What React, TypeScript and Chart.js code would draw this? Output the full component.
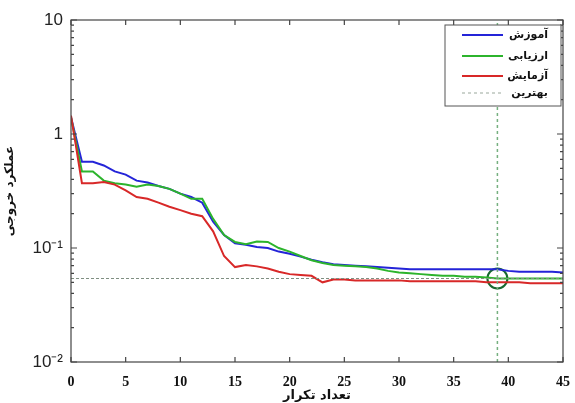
import React, { useEffect, useRef } from 'react';
import { Chart, registerables } from 'chart.js';

Chart.register(...registerables);

const EPOCHS = [0, 1, 2, 3, 4, 5, 6, 7, 8, 9, 10, 11, 12, 13, 14, 15, 16, 17, 18, 19, 20, 21, 22, 23, 24, 25, 26, 27, 28, 29, 30, 31, 32, 33, 34, 35, 36, 37, 38, 39, 40, 41, 42, 43, 44, 45];
const TRAIN = [1.4, 0.57, 0.57, 0.53, 0.47, 0.44, 0.39, 0.375, 0.35, 0.33, 0.3, 0.28, 0.25, 0.17, 0.13, 0.11, 0.107, 0.102, 0.1, 0.093, 0.089, 0.084, 0.079, 0.075, 0.072, 0.071, 0.07, 0.069, 0.068, 0.067, 0.066, 0.065, 0.065, 0.065, 0.065, 0.065, 0.065, 0.065, 0.065, 0.065, 0.063, 0.062, 0.062, 0.062, 0.062, 0.061];
const VALID = [1.4, 0.47, 0.47, 0.39, 0.37, 0.36, 0.345, 0.36, 0.35, 0.33, 0.3, 0.27, 0.27, 0.18, 0.13, 0.113, 0.108, 0.114, 0.113, 0.1, 0.093, 0.085, 0.078, 0.074, 0.071, 0.07, 0.069, 0.068, 0.066, 0.063, 0.061, 0.06, 0.059, 0.058, 0.057, 0.057, 0.056, 0.056, 0.055, 0.054, 0.054, 0.054, 0.054, 0.054, 0.054, 0.054];
const TEST = [1.45, 0.37, 0.37, 0.38, 0.36, 0.32, 0.28, 0.27, 0.25, 0.23, 0.215, 0.2, 0.19, 0.14, 0.085, 0.068, 0.071, 0.069, 0.066, 0.062, 0.059, 0.058, 0.057, 0.05, 0.053, 0.053, 0.052, 0.052, 0.052, 0.052, 0.052, 0.051, 0.051, 0.051, 0.051, 0.051, 0.051, 0.051, 0.05, 0.05, 0.05, 0.05, 0.049, 0.049, 0.049, 0.049];
const BEST_EPOCH = 39;
const BEST_VALUE = 0.054;
const SERIES_LABELS = ['آموزش', 'ارزیابی', 'آزمایش', 'بهترین'];
const SERIES_COLORS = ['#2424d8', '#2cb42c', '#d82828', '#76b07f'];
const X_TICKS = [0, 5, 10, 15, 20, 25, 30, 35, 40, 45];
const Y_MAJOR = [0.01, 0.1, 1, 10];
const Y_TICK_LABELS = ['10⁻²', '10⁻¹', '1', '10'];
const X_TITLE = 'تعداد تکرار';
const Y_TITLE = 'عملکرد خروجی';

const framePlugin = {
  id: 'frameTicks',
  afterDatasetsDraw(chart: any) {
    const { ctx, chartArea, scales } = chart;
    const { left, right, top, bottom } = chartArea;
    const x = scales.x;
    const y = scales.y;
    ctx.save();
    ctx.strokeStyle = '#444';
    ctx.lineWidth = 1.2;
    ctx.strokeRect(left, top, right - left, bottom - top);
    ctx.beginPath();
    X_TICKS.forEach((v) => {
      const px = x.getPixelForValue(v);
      ctx.moveTo(px, bottom);
      ctx.lineTo(px, bottom - 5);
      ctx.moveTo(px, top);
      ctx.lineTo(px, top + 5);
    });
    y.ticks.forEach((t: any) => {
      const py = y.getPixelForValue(t.value);
      const major = Y_MAJOR.some((m) => Math.abs(m - t.value) / m < 1e-6);
      const len = major ? 6 : 3;
      ctx.moveTo(left, py);
      ctx.lineTo(left + len, py);
      ctx.moveTo(right, py);
      ctx.lineTo(right - len, py);
    });
    ctx.stroke();
    ctx.restore();
  },
};

const legendPlugin = {
  id: 'customLegend',
  afterDraw(chart: any) {
    const { ctx, chartArea } = chart;
    const boxRight = chartArea.right - 2;
    const boxLeft = boxRight - 116;
    const boxTop = chartArea.top + 5;
    const boxBottom = boxTop + 81;
    ctx.save();
    ctx.fillStyle = '#ffffff';
    ctx.fillRect(boxLeft, boxTop, boxRight - boxLeft, boxBottom - boxTop);
    ctx.strokeStyle = '#555';
    ctx.lineWidth = 1;
    ctx.strokeRect(boxLeft, boxTop, boxRight - boxLeft, boxBottom - boxTop);
    const rows = [10, 31, 51, 68];
    SERIES_LABELS.forEach((label, i) => {
      const yy = boxTop + rows[i];
      ctx.beginPath();
      ctx.strokeStyle = i === 3 ? '#9aa79c' : SERIES_COLORS[i];
      if (i === 3) {
        ctx.lineWidth = 1;
        ctx.setLineDash([3, 3]);
      } else {
        ctx.lineWidth = 2;
        ctx.setLineDash([]);
      }
      ctx.moveTo(boxLeft + 17, yy);
      ctx.lineTo(boxLeft + 58, yy);
      ctx.stroke();
      ctx.setLineDash([]);
      ctx.fillStyle = '#111';
      ctx.font = 'bold 11px "DejaVu Sans"';
      ctx.textAlign = 'right';
      ctx.textBaseline = 'middle';
      ctx.fillText(label, boxRight - 13, yy);
    });
    ctx.restore();
  },
};

export default function App() {
  const canvasRef = useRef<HTMLCanvasElement>(null);

  useEffect(() => {
    if (!canvasRef.current) return;
    const mk = (arr: number[]) => EPOCHS.map((e, i) => ({ x: e, y: arr[i] }));
    const chart = new Chart(canvasRef.current, {
      type: 'line',
      data: {
        datasets: [
          {
            label: 'best-h',
            data: [
              { x: EPOCHS[0], y: BEST_VALUE },
              { x: EPOCHS[EPOCHS.length - 1], y: BEST_VALUE },
            ],
            borderColor: '#7f8f82',
            borderWidth: 1,
            borderDash: [3, 2],
            pointRadius: 0,
          },
          {
            label: 'best-v',
            data: [
              { x: BEST_EPOCH, y: Y_MAJOR[0] },
              { x: BEST_EPOCH, y: Y_MAJOR[Y_MAJOR.length - 1] },
            ],
            borderColor: SERIES_COLORS[3],
            borderWidth: 1.5,
            borderDash: [3, 3],
            pointRadius: 0,
          },
          {
            label: SERIES_LABELS[2],
            data: mk(TEST),
            borderColor: SERIES_COLORS[2],
            borderWidth: 2,
            pointRadius: 0,
          },
          {
            label: SERIES_LABELS[1],
            data: mk(VALID),
            borderColor: SERIES_COLORS[1],
            borderWidth: 2,
            pointRadius: 0,
          },
          {
            label: SERIES_LABELS[0],
            data: mk(TRAIN),
            borderColor: SERIES_COLORS[0],
            borderWidth: 2,
            pointRadius: 0,
          },
          {
            label: 'best-point',
            data: [{ x: BEST_EPOCH, y: BEST_VALUE }],
            borderColor: '#17692f',
            backgroundColor: 'rgba(0,0,0,0)',
            borderWidth: 2,
            pointRadius: 10,
            showLine: false,
          },
        ],
      },
      options: {
        responsive: false,
        maintainAspectRatio: false,
        animation: false,
        devicePixelRatio: 1,
        layout: { padding: { left: 0, right: 8, top: 20, bottom: 0 } },
        plugins: { legend: { display: false }, tooltip: { enabled: false } },
        scales: {
          x: {
            type: 'linear',
            min: X_TICKS[0],
            max: X_TICKS[X_TICKS.length - 1],
            afterBuildTicks: (scale: any) => {
              scale.ticks = X_TICKS.map((v) => ({ value: v }));
            },
            afterFit: (scale: any) => {
              scale.height = 41;
              scale.paddingLeft = 0;
              scale.paddingRight = 0;
            },
            grid: { display: false, drawTicks: false },
            border: { display: false },
            ticks: {
              padding: 12,
              color: '#111',
              maxRotation: 0,
              font: { family: '"Liberation Serif"', size: 14, weight: 'bold' },
              callback: (v: any) => String(v),
            },
            title: {
              display: true,
              text: X_TITLE,
              color: '#111',
              padding: { top: 0, bottom: 0 },
              font: { family: '"DejaVu Sans"', size: 13, weight: 'bold' },
            },
          },
          y: {
            type: 'logarithmic',
            min: Y_MAJOR[0],
            max: Y_MAJOR[Y_MAJOR.length - 1],
            afterBuildTicks: (scale: any) => {
              const ticks: any[] = [];
              for (let i = 0; i < Y_MAJOR.length; i++) {
                ticks.push({ value: Y_MAJOR[i] });
                if (i < Y_MAJOR.length - 1) {
                  for (let k = 2; k <= 9; k++) ticks.push({ value: Y_MAJOR[i] * k });
                }
              }
              scale.ticks = ticks;
            },
            afterFit: (scale: any) => {
              scale.width = 71;
              scale.paddingTop = 0;
              scale.paddingBottom = 0;
            },
            grid: { display: false, drawTicks: false },
            border: { display: false },
            ticks: {
              padding: 8,
              color: '#222',
              autoSkip: false,
              font: { family: '"Liberation Sans"', size: 17 },
              callback: (v: any) => {
                const idx = Y_MAJOR.findIndex((m) => Math.abs(m - Number(v)) / m < 1e-6);
                return idx >= 0 ? Y_TICK_LABELS[idx] : '';
              },
            },
            title: {
              display: true,
              text: Y_TITLE,
              color: '#111',
              padding: { top: 3, bottom: 0 },
              font: { family: '"DejaVu Sans"', size: 12, weight: 'bold' },
            },
          },
        },
      },
      plugins: [framePlugin, legendPlugin],
    } as any);
    return () => chart.destroy();
  }, []);

  return (
    <div style={{ position: 'fixed', left: 0, top: 0, width: 575, height: 403, background: '#fff' }}>
      <canvas ref={canvasRef} width={575} height={403} />
    </div>
  );
}
